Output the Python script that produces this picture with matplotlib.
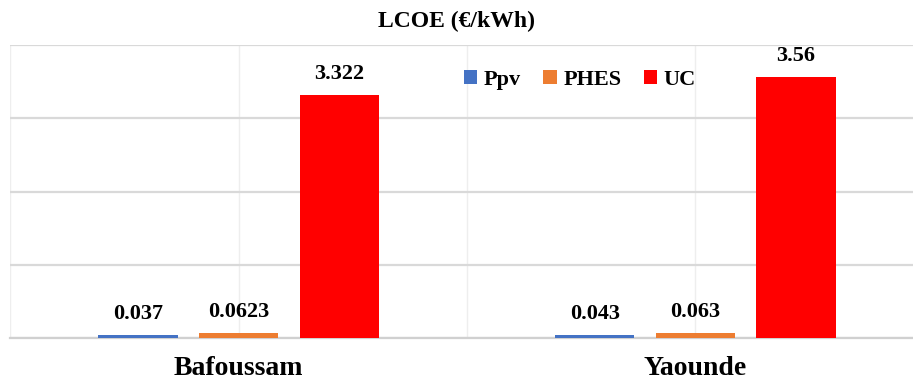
import matplotlib.pyplot as plt
import numpy as np

plt.rcParams['font.family'] = ['Liberation Serif', 'DejaVu Serif']
plt.rcParams['font.weight'] = 'bold'

cities = ['Bafoussam', 'Yaounde']
series = ['Ppv', 'PHES', 'UC']
ppv = [0.037, 0.043]
phes = [0.0623, 0.063]
uc = [3.322, 3.56]
value_labels = [['0.037', '0.043'], ['0.0623', '0.063'], ['3.322', '3.56']]
colors = ['#4472C4', '#ED7D31', '#FF0000']

fig = plt.figure(figsize=(9.13, 3.85), dpi=100)
ax = fig.add_axes([0.011, 0.122, 1.001, 0.761])

x = np.arange(len(cities))
offsets = [-0.22, 0.0, 0.22]
width = 0.173
for vals, labs, off, col, name in zip([ppv, phes, uc], value_labels, offsets, colors, series):
    bars = ax.bar(x + off, vals, width, color=col, label=name, zorder=3)
    for b, lab in zip(bars, labs):
        ax.annotate(lab, (b.get_x() + b.get_width() / 2, b.get_height()),
                    xytext=(0, 8), textcoords='offset points',
                    ha='center', va='bottom', fontsize=16, fontweight='bold')

ax.set_xlim(-0.5, 1.5)
ax.set_ylim(0, 4)
ax.set_yticks([0, 1, 2, 3, 4])
ax.set_yticklabels([])
ax.tick_params(axis='y', length=0)
ax.set_xticks([-0.5, 0, 0.5, 1, 1.5], minor=False)
ax.set_xticklabels([])
ax.tick_params(axis='x', length=0)
ax.grid(axis='y', color='#D9D9D9', linewidth=1.6, zorder=0)
ax.grid(axis='x', color='#EEEEEE', linewidth=1.0, zorder=0)
for s in ['top', 'right', 'left']:
    ax.spines[s].set_visible(False)
ax.spines['bottom'].set_color('#D0D0D0')
ax.spines['bottom'].set_linewidth(1.6)

for xi, c in zip(x, cities):
    ax.text(xi, -0.24, c, ha='center', va='top', fontsize=20, fontweight='bold',
            transform=ax.transData)

fig.text(0.5, 0.945, 'LCOE (€/kWh)', ha='center', va='center', fontsize=17, fontweight='bold')

fig.legend(loc='center', bbox_to_anchor=(580 / 913, 1 - 80 / 385), ncol=3, frameon=False,
           handlelength=0.6, handleheight=0.6, handletextpad=0.3,
           columnspacing=1.0, prop={'weight': 'bold', 'size': 16})

fig.savefig('out.png', dpi=100)
